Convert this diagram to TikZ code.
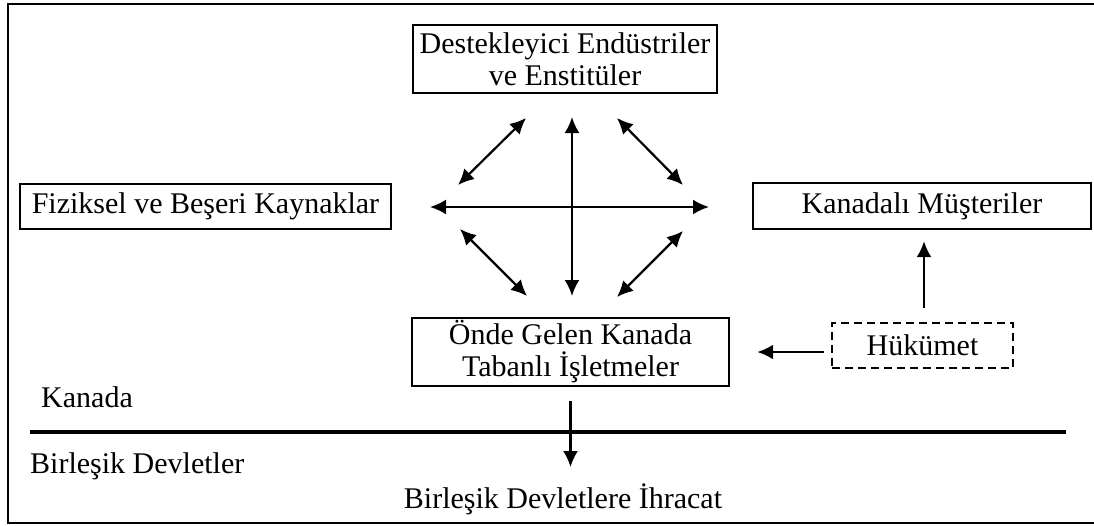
\documentclass[tikz,border=0pt]{standalone}
\usepackage{fontspec}
\setmainfont{Liberation Serif}
\usetikzlibrary{arrows.meta}
\begin{document}
\begin{tikzpicture}[x=1pt,y=-1pt,
  txt/.style={font=\fontsize{30}{32}\selectfont, inner sep=0pt},
  box/.style={txt, draw, line width=2.4pt, align=center},
  govbox/.style={box, dash pattern=on 8pt off 5pt},
  link/.style={line width=2.2pt, -{Latex[length=16pt,width=15pt]}},
  bilink/.style={line width=2.2pt, {Latex[length=16pt,width=15pt]}-{Latex[length=16pt,width=15pt]}}]
\useasboundingbox (0,0) rectangle (1094,525);
% open frame and the border line between the two countries
\draw[line width=2.6pt] (1094,4) -- (8,4) -- (8,523) -- (1094,523);
\draw[line width=3.2pt] (30,432) -- (1066,432);

% boxes
\node[box, minimum width=304, minimum height=68] (sup) at (565,59) {Destekleyici Endüstriler\\ve Enstitüler};
\node[box, minimum width=371, minimum height=45] (res) at (205.5,206.5) {Fiziksel ve Beşeri Kaynaklar};
\node[box, minimum width=338, minimum height=46] (cust) at (922,206) {Kanadalı Müşteriler};
\node[box, minimum width=317, minimum height=68] (firm) at (570.5,352) {Önde Gelen Kanada\\Tabanlı İşletmeler};
\node[govbox, minimum width=181, minimum height=45] (gov) at (922.5,345.5) {Hükümet};

% labels
\node[txt, anchor=base west] (ca) at (41,407) {Kanada};
\node[txt, anchor=base west] (us) at (30,473) {Birleşik Devletler};
\node[txt, anchor=base] (exp) at (563,508) {Birleşik Devletlere İhracat};

% the diamond of interactions
\coordinate (cn) at (572,117);
\coordinate (cs) at (572,296);
\coordinate (cw) at (430,207);
\coordinate (ce) at (709,207);
\coordinate (ula) at (458,185); \coordinate (ulb) at (526,118);
\coordinate (ura) at (617,118); \coordinate (urb) at (683,185);
\coordinate (lla) at (460,229); \coordinate (llb) at (527,296);
\coordinate (lra) at (683,231); \coordinate (lrb) at (617,297);
\draw[bilink] (cn) -- (cs);
\draw[bilink] (cw) -- (ce);
\draw[bilink] (ula) -- (ulb);
\draw[bilink] (ura) -- (urb);
\draw[bilink] (lla) -- (llb);
\draw[bilink] (lra) -- (lrb);

% government influence and exports
\draw[link, shorten <=7pt, shorten >=27pt] ([yshift=-6.5pt]gov.west) -- (firm.east);
\draw[link, shorten <=14pt, shorten >=11pt] ([xshift=1.5pt]gov.north) -- ([xshift=2pt]cust.south);
\coordinate (exptip) at (570.5,467);
\draw[link, shorten <=14pt] (firm.south) -- (exptip);
\end{tikzpicture}
\end{document}
